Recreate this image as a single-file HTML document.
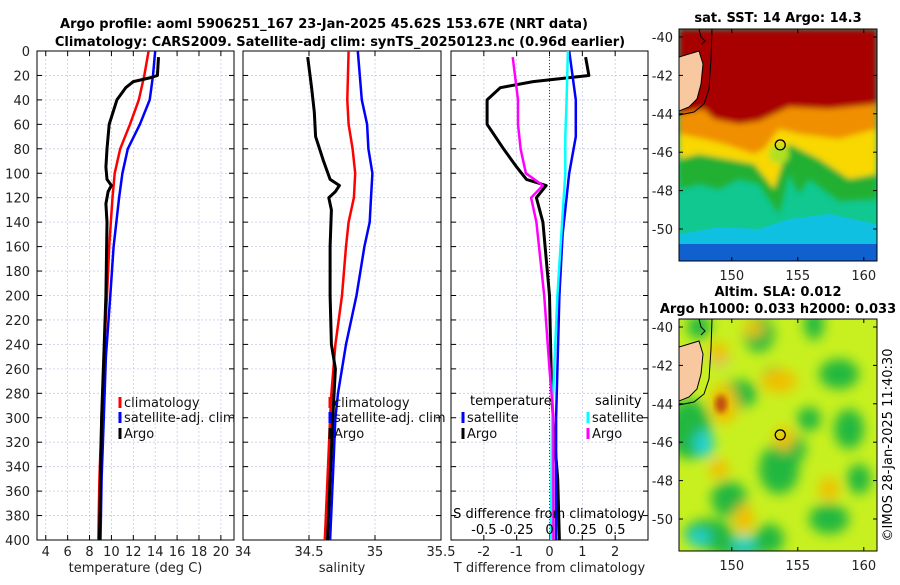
<!DOCTYPE html>
<html><head><meta charset="utf-8"><style>
body{margin:0;background:#fff;}
svg{font-family:"DejaVu Sans","Liberation Sans",sans-serif;}
</style></head><body>
<svg id="chart" width="900" height="580" viewBox="0 0 900 580" xmlns="http://www.w3.org/2000/svg">
<defs>
<filter id="blur" x="-20%" y="-20%" width="140%" height="140%"><feGaussianBlur stdDeviation="6"/></filter>
<filter id="blur2" x="-20%" y="-20%" width="140%" height="140%"><feGaussianBlur stdDeviation="3"/></filter>
<clipPath id="c1"><rect x="37" y="51" width="197" height="489"/></clipPath>
<clipPath id="c2"><rect x="243" y="51" width="198" height="489"/></clipPath>
<clipPath id="c3"><rect x="451" y="51" width="197" height="489"/></clipPath>
<clipPath id="cm1"><rect x="679" y="29" width="198" height="232"/></clipPath>
<clipPath id="cm2"><rect x="679" y="319" width="198" height="232"/></clipPath>
</defs>
<text x="324" y="28" text-anchor="middle" font-size="13" font-weight="bold">Argo profile: aoml 5906251_167 23-Jan-2025 45.62S 153.67E (NRT data)</text>
<text x="340" y="46" text-anchor="middle" font-size="13" font-weight="bold">Climatology: CARS2009. Satellite-adj clim: synTS_20250123.nc (0.96d earlier)</text>
<g id="panels"></g>
<g id="maps"></g>
<text transform="translate(892,445) rotate(-90)" text-anchor="middle" font-size="13">©IMOS 28-Jan-2025 11:40:30</text>
</svg>
<script>
// ---- data ----
const depthTicks=[0,20,40,60,80,100,120,140,160,180,200,220,240,260,280,300,320,340,360,380,400];
const tTicks=[4,6,8,10,12,14,16,18,20];
const sTicks=[34,34.5,35,35.5];
const sTickLabels=["34","34.5","35","35.5"];
const dTicks=[-2,-1,0,1,2];
const dTickLabels=["-2","-1","0","1","2"];
const sdTicks=[-0.5,-0.25,0,0.25,0.5];
const sdTickLabels=["-0.5","-0.25","0","0.25","0.5"];

const climTdepth=[0,20,40,60,80,100,120,160,200,250,300,350,400];
const climT=[13.4,13.0,12.5,11.7,10.8,10.3,10.1,9.8,9.6,9.3,9.1,8.9,8.8];
const satT=[14.0,13.8,13.5,12.6,11.5,11.0,10.7,10.2,9.9,9.5,9.3,9.1,9.0];
const argoTdepth=[5,20,22,25,30,40,60,80,95,105,110,115,125,140,200,250,300,350,400];
const argoT=[14.3,14.2,13.5,12.0,11.3,10.5,9.8,9.6,9.5,9.6,10.0,9.7,9.5,9.6,9.5,9.3,9.1,9.0,8.9];

const climSdepth=[0,40,60,80,100,120,140,160,200,240,280,300,350,400];
const climS=[34.80,34.79,34.80,34.83,34.85,34.84,34.80,34.78,34.75,34.70,34.67,34.66,34.64,34.62];
const satS=[34.87,34.90,34.94,34.95,34.98,34.97,34.96,34.92,34.86,34.78,34.72,34.70,34.68,34.66];
const argoSdepth=[5,30,50,70,90,105,110,115,120,130,160,200,240,260,300,350,400];
const argoS=[34.49,34.52,34.54,34.55,34.61,34.66,34.73,34.70,34.65,34.67,34.66,34.66,34.67,34.70,34.68,34.66,34.64];

const dDepth=[0,40,70,100,150,200,300,400];
const satTdiff=[0.6,0.8,0.8,0.6,0.4,0.3,0.2,0.2];
const satSdiff=[0.14,0.13,0.12,0.12,0.09,0.06,0.02,0.01];
const argoDdepth=[5,20,25,30,40,60,80,95,105,110,120,140,200,260,300,350,400];
const argoTdiff=[1.1,1.2,-0.5,-1.5,-1.9,-1.9,-1.4,-1.0,-0.7,-0.1,-0.4,-0.2,0.0,0.05,0.1,0.25,0.3];
const argoSdiffDepth=[5,40,60,80,100,110,120,140,200,260,300,400];
const argoSdiff=[-0.28,-0.24,-0.24,-0.22,-0.18,-0.05,-0.14,-0.1,-0.04,0.0,0.03,0.03];

const lonTicks=[150,155,160];
const latTicks=[-40,-42,-44,-46,-48,-50];
const argoLon=153.67, argoLat=-45.62;

// ---- helpers ----
const NS="http://www.w3.org/2000/svg";
function mk(tag,attrs,parent,txt){const e=document.createElementNS(NS,tag);for(const k in attrs)e.setAttribute(k,attrs[k]);if(txt!==undefined)e.textContent=txt;parent.appendChild(e);return e;}
const Y0=51,Y1=540;
const yD=d=>Y0+d/400*(Y1-Y0);
function lin(d0,d1,r0,r1){return v=>r0+(v-d0)/(d1-d0)*(r1-r0);}
const xT=lin(3.2,21.2,37,234);
const xS=lin(34,35.5,243,441);
const xDT=lin(-3,3,451,648);
const xDS=lin(-0.75,0.75,451,648);
const panels=document.getElementById('panels');

function panel(x0,x1,xs,ticks,labels,xlabel,clip,name){
  const g=mk('g',{},panels);
  
  
  depthTicks.forEach(d=>{const l=mk('line',{x1:x0,x2:x1,y1:yD(d),y2:yD(d),stroke:'#c8cce8','stroke-width':0.8,'stroke-dasharray':'2,2'},g);
    mk('line',{x1:x0,x2:x0+5,y1:yD(d),y2:yD(d),stroke:'#000'},g);mk('line',{x1:x1-5,x2:x1,y1:yD(d),y2:yD(d),stroke:'#000'},g);});
  ticks.forEach((t,i)=>{const x=xs(t);const l=mk('line',{x1:x,x2:x,y1:Y0,y2:Y1,stroke:'#c8cce8','stroke-width':0.8,'stroke-dasharray':'2,2'},g);
    mk('line',{x1:x,x2:x,y1:Y1,y2:Y1-5,stroke:'#000'},g);mk('line',{x1:x,x2:x,y1:Y0,y2:Y0+5,stroke:'#000'},g);
    const t2=mk('text',{x:x,y:556,'text-anchor':'middle','font-size':13,fill:'#222'},g,labels[i]);});
  const r=mk('rect',{x:x0,y:Y0,width:x1-x0,height:Y1-Y0,fill:'none',stroke:'#000','stroke-width':1},g);
  
  const xl=mk('text',{x:(x0+x1)/2,y:572,'text-anchor':'middle','font-size':13,fill:'#222'},g,xlabel);
  
  const cg=mk('g',{'clip-path':`url(#${clip})`},g);
  return cg;
}
function line(g,xs,vals,depths,color,w,name){
  const p=vals.map((v,i)=>`${i?'L':'M'}${xs(v).toFixed(1)},${yD(depths[i]).toFixed(1)}`).join('');
  const e=mk('path',{d:p,fill:'none',stroke:color,'stroke-width':w,'stroke-linejoin':'round'},g);
  
  
}
function legend(g,x,y,color,label,name){
  const lg=mk('g',{},g);
  
  
  mk('line',{x1:x,x2:x,y1:y-10,y2:y+1,stroke:color,'stroke-width':3},lg);
  mk('text',{x:x+4,y:y,'font-size':13,fill:'#111'},lg,label);
}

depthTicks.forEach(d=>{const t=mk('text',{x:30,y:yD(d)+5,'text-anchor':'end','font-size':13,fill:'#222'},panels,String(d));});

const g1=panel(37,234,xT,tTicks,tTicks.map(String),'temperature (deg C)','c1','temperature-panel');
line(g1,xT,climT,climTdepth,'#f00',2.5,'temperature-climatology-line');
line(g1,xT,satT,climTdepth,'#00f',2.5,'temperature-satellite-line');
line(g1,xT,argoT,argoTdepth,'#000',3,'temperature-argo-line');
legend(panels,120,407,'#f00','climatology','legend-climatology');
legend(panels,120,422,'#00f','satellite-adj. clim','legend-satellite-adj-clim');
legend(panels,120,438,'#000','Argo','legend-argo');

const g2=panel(243,441,xS,sTicks,sTickLabels,'salinity','c2','salinity-panel');
line(g2,xS,climS,climSdepth,'#f00',2.5,'salinity-climatology-line');
line(g2,xS,satS,climSdepth,'#00f',2.5,'salinity-satellite-line');
line(g2,xS,argoS,argoSdepth,'#000',3,'salinity-argo-line');
legend(panels,330,407,'#f00','climatology','legend-s-climatology');
legend(panels,330,422,'#00f','satellite-adj. clim','legend-s-satellite-adj-clim');
legend(panels,330,438,'#000','Argo','legend-s-argo');

const g3=panel(451,648,xDT,dTicks,dTickLabels,'T difference from climatology','c3','difference-panel');
{const z=mk('line',{x1:xDT(0),x2:xDT(0),y1:Y0,y2:Y1,stroke:'#060','stroke-width':1,'stroke-dasharray':'1,2'},g3);}
line(g3,xDT,argoTdiff,argoDdepth,'#000',3,'t-diff-argo-line');
line(g3,xDT,satTdiff,dDepth,'#00f',2.5,'t-diff-satellite-line');
line(g3,xDS,satSdiff,dDepth,'#0ff',2.5,'s-diff-satellite-line');
line(g3,xDS,argoSdiff,argoSdiffDepth,'#f0f',2.5,'s-diff-argo-line');
{const t=mk('text',{x:470,y:405,'font-size':13},panels,'temperature');
 const t2=mk('text',{x:595,y:405,'font-size':13},panels,'salinity');}
legend(panels,463,422,'#00f','satellite','legend-t-satellite');
legend(panels,463,438,'#000','Argo','legend-t-argo');
legend(panels,588,422,'#0ff','satellite','legend-s-satellite');
legend(panels,588,438,'#f0f','Argo','legend-s-argo-diff');
{const t=mk('text',{x:549,y:518,'text-anchor':'middle','font-size':13},panels,'S difference from climatology');
 sdTicks.forEach((v,i)=>{const e=mk('text',{x:xDS(v),y:534,'text-anchor':'middle','font-size':13},panels,sdTickLabels[i]);});}

// ---- maps ----
const maps=document.getElementById('maps');
function map(y0,clip,name,lonY,fillFn){
  const x0=679,w=198,h=232;
  const xL=lin(146,161,x0,x0+w);
  const yL=lin(-40,-50,y0+8,y0+200);
  const g=mk('g',{},maps);
  
  
  const cg=mk('g',{'clip-path':`url(#${clip})`},g);
  fillFn(cg,x0,y0,w,h);
  mk('path',{d:`M${x0},${y0+28} L${x0+10},${y0+25} L${x0+20},${y0+22} L${x0+24},${y0+35} L${x0+22},${y0+55} L${x0+18},${y0+70} L${x0+10},${y0+78} L${x0},${y0+82} Z`,fill:'#f8c8a0',stroke:'#000','stroke-width':1},cg);
  mk('path',{d:`M${x0+20},${y0} L${x0+22},${y0+8} L${x0+26},${y0+12} L${x0+22},${y0+16}`,fill:'none',stroke:'#000','stroke-width':1},cg);
  mk('path',{d:`M${x0+33},${y0} L${x0+32},${y0+30} L${x0+30},${y0+60} L${x0+25},${y0+75} L${x0+15},${y0+83} L${x0},${y0+86}`,fill:'none',stroke:'#000','stroke-width':1},cg);
  const c=mk('circle',{cx:xL(argoLon),cy:yL(argoLat),r:5,fill:'none',stroke:'#000','stroke-width':1.3},g);
  
  mk('rect',{x:x0,y:y0,width:w,height:h,fill:'none',stroke:'#000'},g);
  latTicks.forEach(v=>{const y=yL(v);mk('line',{x1:x0,x2:x0+4,y1:y,y2:y,stroke:'#000'},g);mk('line',{x1:x0+w-4,x2:x0+w,y1:y,y2:y,stroke:'#000'},g);
    const t=mk('text',{x:x0-6,y:y+5,'text-anchor':'end','font-size':13,fill:'#222'},g,String(v));});
  lonTicks.forEach(v=>{const x=xL(v);mk('line',{x1:x,x2:x,y1:y0+h,y2:y0+h-4,stroke:'#000'},g);mk('line',{x1:x,x2:x,y1:y0,y2:y0+4,stroke:'#000'},g);
    const t=mk('text',{x:x,y:lonY,'text-anchor':'middle','font-size':13,fill:'#222'},g,String(v));});
}
map(29,'cm1','sst-map',280,(g,x,y,w,h)=>{
  mk('rect',{x:x,y:y,width:w,height:h,fill:'#1060d0'},g);
  mk('rect',{x:x,y:y,width:w,height:215,fill:'#10c0e0'},g);
  mk('path',{d:`M${x},${y} H${x+w} V${y+195} L${x+150},${y+185} L${x+110},${y+190} L${x+80},${y+200} L${x+40},${y+198} L${x},${y+205}Z`,fill:'#10c890'},g);
  const bg=mk('g',{filter:'url(#blur2)'},g);
  mk('path',{d:`M${x},${y} H${x+w} V${y+170} L${x+160},${y+172} L${x+130},${y+150} L${x+120},${y+165} L${x+110},${y+145} L${x+100},${y+185} L${x+80},${y+155} L${x+60},${y+150} L${x+40},${y+160} L${x+20},${y+155} L${x},${y+160}Z`,fill:'#20b030'},bg);
  mk('path',{d:`M${x},${y} H${x+w} V${y+145} L${x+170},${y+150} L${x+140},${y+130} L${x+110},${y+115} L${x+95},${y+160} L${x+75},${y+135} L${x+20},${y+125} L${x},${y+130}Z`,fill:'#f8d800'},bg);
  mk('path',{d:`M${x},${y} H${x+w} V${y+100} L${x+160},${y+110} L${x+120},${y+105} L${x+100},${y+100} L${x+85},${y+120} L${x+75},${y+125} L${x+45},${y+115} L${x+25},${y+110} L${x},${y+105}Z`,fill:'#f09000'},bg);
  mk('path',{d:`M${x},${y} H${x+w} V${y+75} L${x+150},${y+80} L${x+110},${y+78} L${x+80},${y+92} L${x+60},${y+95} L${x+35},${y+90} L${x+25},${y+80} L${x},${y+85}Z`,fill:'#a80000'},bg);
  mk('circle',{cx:x+100,cy:y+125,r:10,fill:'#b0e020'},bg);
});
map(319,'cm2','sla-map',570,(g,x,y,w,h)=>{
  mk('rect',{x:x,y:y,width:w,height:h,fill:'#c8f020'},g);
  const bg=mk('g',{filter:'url(#blur)'},g);
  [[20,8,12,12],[80,15,15,18],[135,5,10,16],[160,55,20,15],[10,110,22,30],[60,75,18,14],[95,60,12,12],[170,110,15,20],[100,150,20,25],[50,180,18,18],[30,215,25,15],[90,220,15,15],[150,200,20,15],[180,160,12,15],[130,100,12,12],[115,130,12,14],[60,230,30,8]].forEach(b=>mk('ellipse',{cx:x+b[0],cy:y+b[1],rx:b[2],ry:b[3],fill:'#20b840'},bg));
  [[25,125,10,14],[20,218,12,8],[65,225,12,8],[40,40,10,8]].forEach(b=>mk('ellipse',{cx:x+b[0],cy:y+b[1],rx:b[2],ry:b[3],fill:'#20d0d0'},bg));
  [[40,35,10,12],[45,85,14,20],[100,62,18,12],[105,120,10,12],[150,170,10,12],[40,150,10,10],[75,10,10,8],[65,200,10,15]].forEach(b=>mk('ellipse',{cx:x+b[0],cy:y+b[1],rx:b[2],ry:b[3],fill:'#f0c000'},bg));
  mk('ellipse',{cx:x+42,cy:y+85,rx:6,ry:9,fill:'#c05010',filter:'url(#blur2)'},g);
});
{const t=mk('text',{x:778,y:22,'text-anchor':'middle','font-size':13,'font-weight':'bold'},maps,'sat. SST: 14 Argo: 14.3');
 const t2=mk('text',{x:778,y:296,'text-anchor':'middle','font-size':13,'font-weight':'bold'},maps,'Altim. SLA: 0.012');
 const t3=mk('text',{x:778,y:313,'text-anchor':'middle','font-size':13,'font-weight':'bold'},maps,'Argo h1000: 0.033 h2000: 0.033');}
</script>
</body></html>
